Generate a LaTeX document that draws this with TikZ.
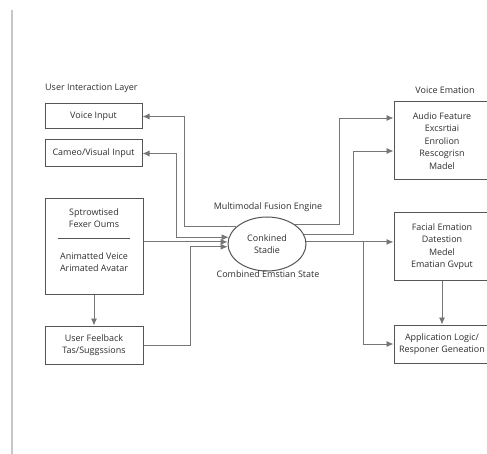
\documentclass[tikz,border=0pt]{standalone}
\usepackage{fontspec}
\setmainfont{Open Sans}
\usepackage{xcolor}
\usetikzlibrary{arrows.meta,shapes.geometric}

\definecolor{boxgray}{HTML}{555555}
\definecolor{linegray}{HTML}{767676}
\definecolor{txtgray}{HTML}{2E2E2E}

\tikzset{
  box/.style={draw=boxgray, line width=1bp, align=center, inner sep=2bp,
    text=txtgray, font=\fontsize{9}{12.5}\selectfont},
  lbl/.style={text=txtgray, inner sep=0, font=\fontsize{9}{12.5}\selectfont},
  arr/.style={draw=linegray, line width=0.9bp, -{Latex[length=7bp,width=6bp]}},
  twoarr/.style={draw=linegray, line width=0.9bp, {Latex[length=7bp,width=6bp]}-{Latex[length=7bp,width=6bp]}},
}

\begin{document}
\begin{tikzpicture}[x=1bp, y=-1bp]
    \useasboundingbox (0,0) rectangle (487,454);
    \draw[black!22, line width=1.5bp] (12,10) -- (12,454);

    % User interaction layer
    \node[lbl, anchor=west] (uilabel) at (45,88) {User Interaction Layer};
    \node[box, minimum width=97bp, minimum height=25bp] (voice) at (93.5,116.5) {Voice Input};
    \node[box, minimum width=97bp, minimum height=27bp] (camera) at (93.5,153.5) {Cameo/Visual Input};
    \node[box, minimum width=98bp, minimum height=95bp] (synth) at (94,246.5) {};
    \node[lbl, align=center] (synthtop) at (94,218) {Sptrowtised\\Fexer Oums};
    \node[lbl, align=center] (synthbot) at (94,262) {Animatted Veice\\Arimated Avatar};
    \draw[boxgray, line width=0.7bp] (58,238) -- (130,238);
    \node[box, minimum width=98bp, minimum height=38bp] (feedback) at (94,345) {User Feelback\\Tas/Suggssions};

    % Fusion engine
    \node[lbl] (fuselabel) at (268,207) {Multimodal Fusion Engine};
    \node[box, ellipse, minimum width=78bp, minimum height=54bp, inner sep=0] (fuse) at (267,244) {Conkined\\Stadie};
    \node[lbl] (statelabel) at (268,274) {Combined Emstian State};

    % Emotion models and output
    \node[lbl] (vemolabel) at (445,90) {Voice Emation};
    \node[box, minimum width=96bp, minimum height=78bp] (vemo) at (442,141) {Audio Feature\\Excsrtiai\\Enrolion\\Rescogrisn\\Madel};
    \node[box, minimum width=96bp, minimum height=67bp] (facial) at (442,246.5) {Facial Emation\\Datestion\\Medel\\Ematian Gvput};
    \node[box, minimum width=96bp, minimum height=38bp] (applogic) at (442,344) {Application Logic/\\Responer Geneation};

    % Left connectors
    \draw[arr] (fuse.151) -- ++(-52,0) |- (voice.east);
    \draw[twoarr] (fuse.170) -- ++(-52,0) |- (camera.east);
    \draw[arr] (synth.east |- fuse.177) -- (fuse.177);
    \draw[arr] (feedback.east) -- ++(47,0) |- (fuse.184);
    \draw[arr] (synth) -- (feedback);

    % Right connectors
    \draw[arr] (fuse.34) -- ++(44,0) |- ([yshift=23bp]vemo.west);
    \draw[arr] (fuse.14) -- ++(49,0) |- ([yshift=-10bp]vemo.west);
    \draw[arr] (fuse.3) -- (fuse.3 -| facial.west);
    \draw[arr] ([xshift=57bp]fuse.3) |- (applogic.west);
    \draw[arr] (facial) -- (applogic);
\end{tikzpicture}
\end{document}
